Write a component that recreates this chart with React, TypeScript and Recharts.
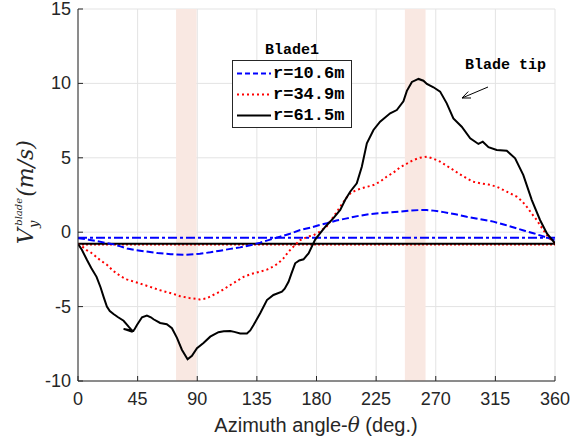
import React from "react"
import {
  LineChart,
  Line,
  XAxis,
  YAxis,
  CartesianGrid,
  ReferenceLine,
  ReferenceArea,
  Legend,
} from "recharts"

// azimuth angle (deg) vs V_y (m/s)
const r106: [number, number][] = [
  [0, -0.4], [2, -0.42], [8, -0.5], [14.6, -0.6], [20, -0.7], [26, -0.8], [32, -0.95],
  [37, -1.1], [43, -1.2], [49.8, -1.28], [60, -1.4], [70, -1.48], [80, -1.52], [92, -1.45],
  [100, -1.35], [107.3, -1.24], [115, -1.12], [122.4, -1.02], [130, -0.88], [137.5, -0.7],
  [145, -0.5], [152.6, -0.3], [160, -0.1], [167.7, 0.15], [175.2, 0.3], [181, 0.45],
  [187.8, 0.6], [195, 0.78], [202.9, 0.93], [212, 1.1], [220.5, 1.22], [228, 1.28],
  [235.6, 1.33], [243, 1.38], [250.7, 1.45], [258, 1.49], [263, 1.49], [268.3, 1.45],
  [276, 1.35], [285, 1.2], [293.4, 1.04], [303, 0.88], [313.5, 0.71], [322, 0.5],
  [331.1, 0.26], [337, 0.1], [343.7, -0.07], [350, -0.25], [355, -0.4], [360, -0.55],
]

const r349: [number, number][] = [
  [0, -0.8], [3, -0.95], [6.5, -1.2], [9.5, -1.35], [13, -1.6], [16.6, -1.87], [22, -2.2],
  [26, -2.55], [29, -2.76], [33, -3.0], [36.7, -3.17], [45, -3.4], [54, -3.66], [62, -3.9],
  [72, -4.15], [77, -4.3], [84, -4.42], [92, -4.52], [97, -4.45], [102, -4.22], [107, -4.0],
  [115, -3.55], [125, -3.0], [131, -2.8], [137.5, -2.65], [143, -2.5], [147.5, -2.3],
  [151, -2.1], [155, -1.76], [159, -1.3], [162.6, -0.97], [167.7, -0.53], [171, -0.4],
  [175.2, -0.26], [177.7, -0.2], [182, 0.0], [187.8, 0.4], [192.5, 1.0], [197.9, 1.71],
  [202.9, 2.35], [206, 2.65], [210.4, 2.84], [216, 3.0], [223, 3.17], [228, 3.4],
  [233, 3.73], [238, 4.0], [243, 4.35], [248, 4.6], [253, 4.85], [258, 5.0], [263.3, 5.07],
  [268, 4.95], [273.3, 4.74], [278, 4.48], [283.3, 4.18], [288, 3.9], [293.4, 3.62],
  [298, 3.4], [303.5, 3.29], [310, 3.2], [316, 3.06], [323.6, 2.72], [331.1, 2.39],
  [335, 2.1], [338.7, 1.71], [342, 1.3], [346.2, 0.82], [350, 0.3], [353.8, -0.19],
  [357, -0.5], [360, -0.75],
]

// the little hook near 35-41 deg is in the original trace
const r615: [number, number][] = [
  [0, -0.78], [3, -1.2], [6.8, -1.87], [10, -2.4], [14, -3.0], [17, -3.7], [19.5, -4.4],
  [21.8, -5.0], [24, -5.3], [26.8, -5.5], [30, -5.7], [34.4, -5.95], [38.2, -6.35],
  [40.7, -6.6], [34.4, -6.5], [40.7, -6.68], [42.5, -6.55], [44.5, -6.24], [48.3, -5.72],
  [52, -5.6], [55, -5.72], [57, -5.85], [62, -6.1], [67, -6.19], [70.9, -6.45], [74.7, -7.1],
  [78.4, -7.9], [82.7, -8.54], [86, -8.3], [89.8, -7.8], [94.7, -7.45], [99.8, -7.02],
  [106, -6.72], [110, -6.65], [114.9, -6.64], [118, -6.7], [122.4, -6.8], [127.5, -6.8],
  [130, -6.6], [132.5, -6.24], [137.5, -5.45], [142.6, -4.56], [147.5, -4.22], [153.9, -4.0],
  [156, -3.8], [158.9, -3.33], [161, -2.8], [163.9, -2.09], [167, -1.9], [170.2, -1.82],
  [174, -1.42], [179, -0.5], [182.8, -0.07], [187, 0.4], [192.8, 0.95], [197.9, 1.5],
  [201.6, 2.16], [205.4, 2.72], [210.4, 3.29], [214.2, 4.4], [218, 5.97], [223, 6.87],
  [228, 7.43], [235.6, 7.99], [240.6, 8.21], [245.6, 8.8], [248.2, 9.5], [252, 10.1],
  [257, 10.3], [260.7, 10.18], [263.3, 9.96], [268.3, 9.74], [273.3, 9.45], [278.3, 8.66],
  [283.3, 7.65], [289.6, 7.09], [296, 6.31], [302.2, 5.93], [305.5, 6.08], [309.8, 5.71],
  [316, 5.52], [323.6, 5.48], [329.9, 4.97], [336.1, 3.84], [342.5, 2.16], [348.7, 0.82],
  [354, -0.1], [360, -0.75],
]

// mean levels drawn as horizontal lines
const meanLevels = [-0.37, -0.85, -0.78]
const highlightBands: [number, number][] = [[74, 89.5], [246.7, 262.3]]
const xTicks = [0, 45, 90, 135, 180, 225, 270, 315, 360]
const yTicks = [-10, -5, 0, 5, 10, 15]
const seriesNames = ["r=10.6m", "r=34.9m", "r=61.5m"]

const toRows = (pts: [number, number][]) => pts.map(([x, y]) => ({ x, y }))

const W = 587
const H = 444
const AXIS = "#262626"
const TICK_FONT = "Liberation Sans, Arial, sans-serif"
const MONO = "Liberation Mono, Courier New, monospace"

const series = [
  { name: seriesNames[0], data: toRows(r106), color: "#0000ff", dash: "7 3", legendDash: "5 3", width: 2 },
  { name: seriesNames[1], data: toRows(r349), color: "#ff0000", dash: "2 3", legendDash: "2 3", width: 2 },
  { name: seriesNames[2], data: toRows(r615), color: "#000000", dash: undefined, legendDash: undefined, width: 2 },
]
const meanStyles = [
  { color: "#0000ff", dash: "9 3 3 3", width: 2 },
  { color: "#ff0000", dash: "2 2", width: 1.5 },
  { color: "#000000", dash: undefined, width: 2 },
]

function BottomTick({ x, y, payload }: any) {
  return (
    <g>
      <line x1={x} y1={y} x2={x} y2={y - 5} stroke={AXIS} />
      <text x={x} y={y + 24} textAnchor="middle" fill={AXIS} fontSize={18} fontFamily={TICK_FONT}>
        {payload.value}
      </text>
    </g>
  )
}

function LeftTick({ x, y, payload }: any) {
  return (
    <g>
      <line x1={x} y1={y} x2={x + 5} y2={y} stroke={AXIS} />
      <text x={x - 7} y={y + 6} textAnchor="end" fill={AXIS} fontSize={18} fontFamily={TICK_FONT}>
        {payload.value}
      </text>
    </g>
  )
}

const TopTick = ({ x, y }: any) => <line x1={x} y1={y} x2={x} y2={y + 5} stroke={AXIS} />
const RightTick = ({ x, y }: any) => <line x1={x} y1={y} x2={x - 5} y2={y} stroke={AXIS} />

function LegendBox() {
  return (
    <div style={{ width: 120, fontFamily: MONO, fontWeight: "bold", color: "#000" }}>
      <div style={{ textAlign: "center", fontSize: 15, height: 18, lineHeight: "18px" }}>Blade1</div>
      <div
        style={{
          border: `1px solid ${AXIS}`,
          background: "#fff",
          height: 64,
          paddingTop: 2,
          boxSizing: "content-box",
        }}
      >
        {series.map((s) => (
          <div key={s.name} style={{ display: "flex", alignItems: "center", height: 21 }}>
            <svg width={40} height={21}>
              <line
                x1={4}
                y1={10.5}
                x2={38}
                y2={10.5}
                stroke={s.color}
                strokeWidth={s.width}
                strokeDasharray={s.legendDash}
              />
            </svg>
            <span style={{ fontSize: 17, lineHeight: "21px" }}>{s.name}</span>
          </div>
        ))}
      </div>
    </div>
  )
}

const XTitle = () => (
  <text x={316} y={432} textAnchor="middle" fill={AXIS} fontSize={20} fontFamily={TICK_FONT}>
    Azimuth angle-<tspan fontFamily="DejaVu Serif, serif" fontStyle="italic">θ</tspan> (deg.)
  </text>
)

const YTitle = () => (
  <text
    transform="translate(33,244) rotate(-90)"
    fill={AXIS}
    fontSize={22}
    fontFamily="DejaVu Serif, serif"
    fontStyle="italic"
  >
    V
    <tspan fontSize={13} dy={5}>y</tspan>
    <tspan fontSize={10} dx={-5} dy={-16}>blade</tspan>
    <tspan fontSize={22} dy={11} dx={1}>(m/s)</tspan>
  </text>
)

// arrow pointing at the tip curve
const tail = { x: 488, y: 87 }
const head = { x: 462, y: 98 }
function arrowWings() {
  const dx = head.x - tail.x
  const dy = head.y - tail.y
  const len = Math.hypot(dx, dy)
  const ux = dx / len
  const uy = dy / len
  const l = 9
  const a = 0.4
  const w1 = {
    x: head.x - l * (ux * Math.cos(a) - uy * Math.sin(a)),
    y: head.y - l * (uy * Math.cos(a) + ux * Math.sin(a)),
  }
  const w2 = {
    x: head.x - l * (ux * Math.cos(-a) - uy * Math.sin(-a)),
    y: head.y - l * (uy * Math.cos(-a) + ux * Math.sin(-a)),
  }
  return `M${w1.x},${w1.y} L${head.x},${head.y} L${w2.x},${w2.y}`
}

export default function App() {
  return (
    <div style={{ position: "absolute", left: 0, top: 0, width: W, height: H, background: "#fff" }}>
      <LineChart width={W} height={H} margin={{ top: 9, right: 32, bottom: 0, left: 0 }}>
        {highlightBands.map(([a, b], i) => (
          <ReferenceArea
            key={i}
            x1={a}
            x2={b}
            y1={-10}
            y2={15}
            fill="#f9e8e2"
            fillOpacity={1}
            stroke="none"
            ifOverflow="hidden"
          />
        ))}
        <CartesianGrid stroke="#e3e3e3" strokeWidth={1} />
        <XAxis
          dataKey="x"
          type="number"
          domain={[0, 360]}
          ticks={xTicks}
          allowDataOverflow
          height={63}
          tickSize={0}
          tickMargin={0}
          tickLine={false}
          tick={<BottomTick />}
          axisLine={{ stroke: AXIS }}
          label={{ content: () => <XTitle /> }}
        />
        <XAxis
          xAxisId="top"
          orientation="top"
          type="number"
          domain={[0, 360]}
          ticks={xTicks}
          height={0}
          tickSize={0}
          tickMargin={0}
          tickLine={false}
          tick={<TopTick />}
          axisLine={{ stroke: AXIS }}
        />
        <YAxis
          type="number"
          domain={[-10, 15]}
          ticks={yTicks}
          allowDataOverflow
          width={78}
          tickSize={0}
          tickMargin={0}
          tickLine={false}
          tick={<LeftTick />}
          axisLine={{ stroke: AXIS }}
          label={{ content: () => <YTitle /> }}
        />
        <YAxis
          yAxisId="right"
          orientation="right"
          type="number"
          domain={[-10, 15]}
          ticks={yTicks}
          width={0}
          tickSize={0}
          tickMargin={0}
          tickLine={false}
          tick={<RightTick />}
          axisLine={{ stroke: AXIS }}
        />
        {meanLevels.map((v, i) => (
          <ReferenceLine
            key={i}
            y={v}
            stroke={meanStyles[i].color}
            strokeWidth={meanStyles[i].width}
            strokeDasharray={meanStyles[i].dash}
          />
        ))}
        {series.map((s) => (
          <Line
            key={s.name}
            data={s.data}
            dataKey="y"
            name={s.name}
            type="linear"
            stroke={s.color}
            strokeWidth={s.width}
            strokeDasharray={s.dash}
            dot={false}
            activeDot={false}
            isAnimationActive={false}
          />
        ))}
        <Legend
          layout="horizontal"
          verticalAlign="middle"
          align="center"
          content={() => <LegendBox />}
          wrapperStyle={{ position: "absolute", left: 232, top: 42, width: 122, height: 86 }}
        />
      </LineChart>
      <svg
        width={W}
        height={H}
        style={{ position: "absolute", left: 0, top: 0, pointerEvents: "none" }}
      >
        <text x={465} y={69} fontFamily={MONO} fontWeight="bold" fontSize={15} fill="#000">
          Blade tip
        </text>
        <line x1={tail.x} y1={tail.y} x2={head.x} y2={head.y} stroke="#000" strokeWidth={1} />
        <path d={arrowWings()} fill="none" stroke="#000" strokeWidth={1} />
      </svg>
    </div>
  )
}
